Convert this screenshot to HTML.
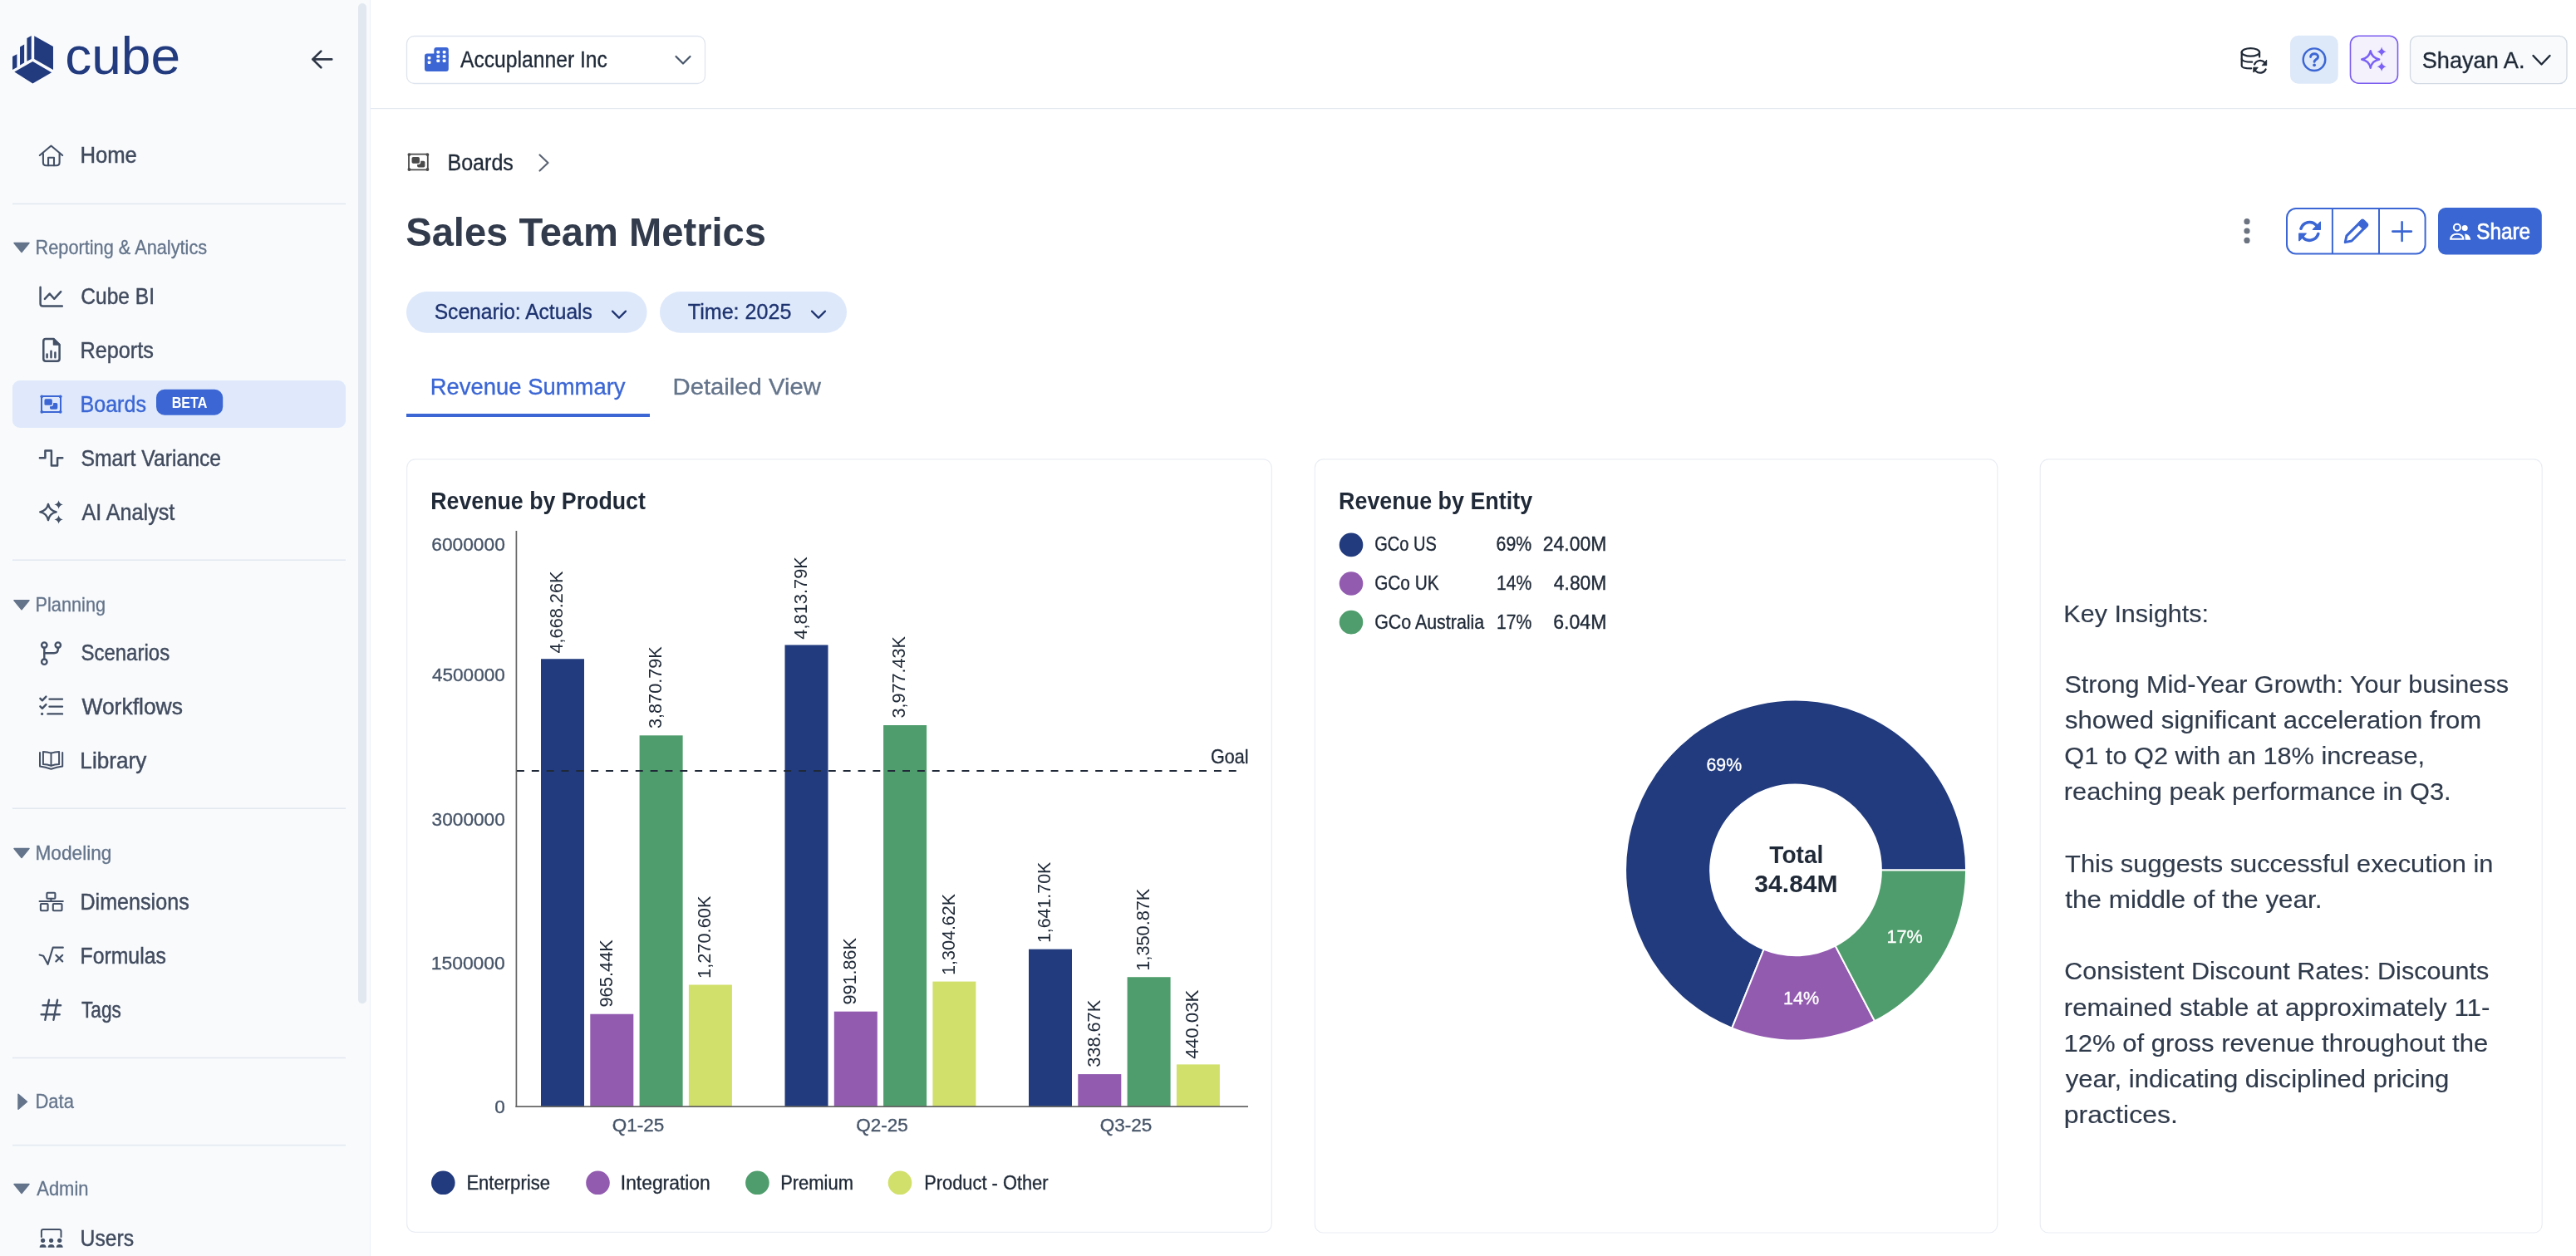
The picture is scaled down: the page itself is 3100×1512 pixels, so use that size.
<!DOCTYPE html>
<html lang="en"><head><meta charset="utf-8"><title>Sales Team Metrics - Boards</title>
<style>html,body{margin:0;padding:0;background:#fff;overflow:hidden}svg{display:block;will-change:transform}</style></head>
<body>
<svg width="3100" height="1512" viewBox="0 0 3100 1512" font-family="Liberation Sans, Arial, sans-serif"><rect x="0.00" y="0.00" width="3100.00" height="1512.00" rx="0" fill="#ffffff"/>
<rect x="0.00" y="0.00" width="445.00" height="1512.00" rx="0" fill="#f8fafc"/>
<rect x="445.00" y="0.00" width="1.10" height="1512.00" rx="0" fill="#edf1fb"/>
<rect x="431.00" y="4.00" width="10.00" height="1204.20" rx="5" fill="#e2e8f0"/>
<g fill="#223a7e"><polygon points="15.05,68.0 20.43,65.2 20.43,81.1 15.05,83.9"/><polygon points="24.02,56.4 29.16,53.6 29.16,75.4 24.02,78.4"/><polygon points="32.42,46.0 37.72,43.0 37.72,70.9 32.42,73.7"/><polygon points="41.22,43.2 63.97,56.0 63.97,83.9 41.22,70.9"/><polygon points="17.34,86.5 39.35,74.1 62.17,87.2 39.35,100.6"/></g>
<text x="78.21" y="88.80" font-size="63.50" font-weight="normal" fill="#223a7e" textLength="138.84" lengthAdjust="spacingAndGlyphs">cube</text>
<path d="M376.3 71.4 H399.2 M386.3 61.6 L376.3 71.4 L386.3 81.2" fill="none" stroke="#2f3747" stroke-width="2.7" stroke-linecap="round" stroke-linejoin="round"/>
<text x="96.39" y="196.00" font-size="27.03" font-weight="normal" fill="#414b5e" textLength="68.55" lengthAdjust="spacingAndGlyphs" stroke="#414b5e" stroke-width="0.45">Home</text>
<rect x="15.00" y="244.65" width="401.00" height="1.50" rx="0" fill="#e2e8f0"/>
<text x="42.52" y="306.00" font-size="23.11" font-weight="normal" fill="#64748b" textLength="206.66" lengthAdjust="spacingAndGlyphs" stroke="#64748b" stroke-width="0.3">Reporting &amp; Analytics</text>
<polygon points="17,292.5 35,292.5 26,303.5" fill="#64748b" stroke="#64748b" stroke-width="1.5" stroke-linejoin="round"/>
<text x="97.25" y="365.90" font-size="27.03" font-weight="normal" fill="#414b5e" textLength="88.82" lengthAdjust="spacingAndGlyphs" stroke="#414b5e" stroke-width="0.45">Cube BI</text>
<text x="96.43" y="430.60" font-size="27.03" font-weight="normal" fill="#414b5e" textLength="88.49" lengthAdjust="spacingAndGlyphs" stroke="#414b5e" stroke-width="0.45">Reports</text>
<rect x="15.00" y="458.00" width="401.00" height="57.00" rx="9" fill="#dfe9fb"/>
<text x="96.44" y="495.50" font-size="27.03" font-weight="normal" fill="#3b66d4" textLength="79.58" lengthAdjust="spacingAndGlyphs" stroke="#3b66d4" stroke-width="0.45">Boards</text>
<rect x="188.00" y="468.70" width="80.20" height="31.00" rx="10" fill="#3b66d4"/>
<text x="206.72" y="490.90" font-size="18.02" font-weight="bold" fill="#ffffff" textLength="42.70" lengthAdjust="spacingAndGlyphs">BETA</text>
<text x="97.39" y="561.00" font-size="27.03" font-weight="normal" fill="#414b5e" textLength="168.71" lengthAdjust="spacingAndGlyphs" stroke="#414b5e" stroke-width="0.45">Smart Variance</text>
<text x="98.45" y="625.50" font-size="27.03" font-weight="normal" fill="#414b5e" textLength="111.92" lengthAdjust="spacingAndGlyphs" stroke="#414b5e" stroke-width="0.45">AI Analyst</text>
<rect x="15.00" y="673.45" width="401.00" height="1.50" rx="0" fill="#e2e8f0"/>
<text x="42.52" y="736.20" font-size="23.11" font-weight="normal" fill="#64748b" textLength="84.58" lengthAdjust="spacingAndGlyphs" stroke="#64748b" stroke-width="0.3">Planning</text>
<polygon points="17,722.7 35,722.7 26,733.7" fill="#64748b" stroke="#64748b" stroke-width="1.5" stroke-linejoin="round"/>
<text x="97.42" y="794.70" font-size="27.03" font-weight="normal" fill="#414b5e" textLength="106.74" lengthAdjust="spacingAndGlyphs" stroke="#414b5e" stroke-width="0.45">Scenarios</text>
<text x="98.39" y="859.90" font-size="27.03" font-weight="normal" fill="#414b5e" textLength="121.57" lengthAdjust="spacingAndGlyphs" stroke="#414b5e" stroke-width="0.45">Workflows</text>
<text x="96.36" y="925.00" font-size="27.03" font-weight="normal" fill="#414b5e" textLength="79.89" lengthAdjust="spacingAndGlyphs" stroke="#414b5e" stroke-width="0.45">Library</text>
<rect x="15.00" y="972.45" width="401.00" height="1.50" rx="0" fill="#e2e8f0"/>
<text x="42.44" y="1035.00" font-size="23.11" font-weight="normal" fill="#64748b" textLength="92.01" lengthAdjust="spacingAndGlyphs" stroke="#64748b" stroke-width="0.3">Modeling</text>
<polygon points="17,1021.5 35,1021.5 26,1032.5" fill="#64748b" stroke="#64748b" stroke-width="1.5" stroke-linejoin="round"/>
<text x="96.44" y="1095.00" font-size="27.03" font-weight="normal" fill="#414b5e" textLength="131.27" lengthAdjust="spacingAndGlyphs" stroke="#414b5e" stroke-width="0.45">Dimensions</text>
<text x="96.47" y="1159.70" font-size="27.03" font-weight="normal" fill="#414b5e" textLength="103.42" lengthAdjust="spacingAndGlyphs" stroke="#414b5e" stroke-width="0.45">Formulas</text>
<text x="98.00" y="1224.50" font-size="27.03" font-weight="normal" fill="#414b5e" textLength="47.82" lengthAdjust="spacingAndGlyphs" stroke="#414b5e" stroke-width="0.45">Tags</text>
<rect x="15.00" y="1272.75" width="401.00" height="1.50" rx="0" fill="#e2e8f0"/>
<text x="42.50" y="1334.30" font-size="23.11" font-weight="normal" fill="#64748b" textLength="46.41" lengthAdjust="spacingAndGlyphs" stroke="#64748b" stroke-width="0.3">Data</text>
<polygon points="22,1317.3 22,1335.3 32.5,1326.3" fill="#64748b" stroke="#64748b" stroke-width="1.5" stroke-linejoin="round"/>
<rect x="15.00" y="1377.85" width="401.00" height="1.50" rx="0" fill="#e2e8f0"/>
<text x="44.26" y="1439.00" font-size="23.11" font-weight="normal" fill="#64748b" textLength="62.28" lengthAdjust="spacingAndGlyphs" stroke="#64748b" stroke-width="0.3">Admin</text>
<polygon points="17,1425.5 35,1425.5 26,1436.5" fill="#64748b" stroke="#64748b" stroke-width="1.5" stroke-linejoin="round"/>
<text x="96.60" y="1499.90" font-size="27.03" font-weight="normal" fill="#414b5e" textLength="64.50" lengthAdjust="spacingAndGlyphs" stroke="#414b5e" stroke-width="0.45">Users</text>
<g fill="none" stroke="#435066" stroke-width="2.1" stroke-linecap="round" stroke-linejoin="round"><path d="M47.8 187 L61.5 175.5 L75.2 187"/><path d="M51.9 185 V195.5 Q51.9 199.2 55.5 199.2 H67.9 Q71.6 199.2 71.6 195.5 V185"/><path d="M58.1 199.2 V189.7 H65 V199.2"/></g>
<g fill="none" stroke="#435066" stroke-width="2.5" stroke-linecap="round" stroke-linejoin="round"><path d="M48.6 345.8 V365.5 Q48.6 368.6 51.7 368.6 H74.8"/><path d="M53.9 359.8 L59.7 353.5 L65.2 359.8 L73.2 351.2"/></g>
<g fill="none" stroke="#435066" stroke-width="2.5" stroke-linecap="round" stroke-linejoin="round"><path d="M64.5 408 H55 Q52.3 408 52.3 410.7 V432 Q52.3 434.7 55 434.7 H68.9 Q71.6 434.7 71.6 432 V415 Z"/><path d="M56.6 426.5 V430.3 M61.5 422.8 V430.3 M66.4 424.5 V430.3"/></g>
<path d="M64.5 408 L71.6 415 H64.5 Z" fill="#435066" stroke="#435066" stroke-width="1.5" stroke-linejoin="round"/>
<g><rect x="50.00" y="477.00" width="23.00" height="19.10" rx="1.6" fill="none" stroke="#3b66d4" stroke-width="2.0"/><circle cx="50.30" cy="477.30" r="1.9" fill="#3b66d4"/><circle cx="50.30" cy="495.80" r="1.9" fill="#3b66d4"/><circle cx="72.70" cy="477.30" r="1.9" fill="#3b66d4"/><circle cx="72.70" cy="495.80" r="1.9" fill="#3b66d4"/><rect x="60.00" y="485.05" width="9.3" height="7.7" rx="1.7" fill="#3b66d4"/><rect x="53.45" y="480.30" width="9.4" height="7.55" rx="1.7" fill="#3b66d4" stroke="#dfe9fb" stroke-width="2.6" paint-order="stroke"/></g>
<g fill="none" stroke="#435066" stroke-width="2.5" stroke-linecap="round" stroke-linejoin="round"><path d="M47.9 551.3 H54.4 V542.6 H61.9 V560.4 H69.1 V551.3 H75.3"/></g>
<path d="M58 606.8 Q59.6 614.7 67.8 616.3 Q59.6 617.9 58 626.2 Q56.4 617.9 48.2 616.3 Q56.4 614.7 58 606.8 Z" fill="none" stroke="#435066" stroke-width="2.3" stroke-linejoin="round"/>
<path d="M70.6 602.3 Q71.3 606.8 75.8 607.5 Q71.3 608.2 70.6 612.7 Q69.9 608.2 65.4 607.5 Q69.9 606.8 70.6 602.3 Z" fill="#435066"/>
<path d="M70.6 620.2 Q71.3 624.7 75.8 625.4 Q71.3 626.1 70.6 630.6 Q69.9 626.1 65.4 625.4 Q69.9 624.7 70.6 620.2 Z" fill="#435066"/>
<g fill="none" stroke="#435066" stroke-width="2.4" stroke-linecap="round" stroke-linejoin="round"><circle cx="53.3" cy="776.6" r="3.2"/><circle cx="69.8" cy="776.6" r="3.2"/><circle cx="53.3" cy="796.7" r="3.2"/><path d="M53.3 779.8 V793.5"/><path d="M69.8 779.8 V781.5 Q69.8 786.2 65 786.2 H53.3"/></g>
<g fill="none" stroke="#435066" stroke-width="2.4" stroke-linecap="round" stroke-linejoin="round"><path d="M48.4 840.8 L50.9 843.3 L55.4 838.6"/><path d="M48.4 850.3 L50.9 852.8 L55.4 848.1"/><path d="M59.5 841.6 H75 M59.5 850.6 H75 M57.5 859.4 H75"/></g>
<circle cx="50.6" cy="859.4" r="1.6" fill="#435066"/>
<g fill="none" stroke="#435066" stroke-width="2.0" stroke-linecap="round" stroke-linejoin="round"><path d="M48 906 V922.5 Q54.5 923.5 61.5 925.8 Q68.5 923.5 75.2 922.5 V906"/><path d="M51.9 905 Q57 905.3 61.5 906.6 Q66 905.3 71.1 905 V920 Q66 920.3 61.5 921.8 Q57 920.3 51.9 920 Z"/><path d="M61.5 906.6 V921.8"/></g>
<g fill="none" stroke="#435066" stroke-width="2.1" stroke-linecap="round" stroke-linejoin="round"><rect x="56.4" y="1074.7" width="10" height="7" rx="1"/><path d="M61.4 1081.7 V1085 M47.6 1085 H75.8"/><rect x="48.9" y="1088" width="8.7" height="8.2" rx="1"/><rect x="63.8" y="1088" width="10.7" height="8.2" rx="1"/></g>
<g fill="none" stroke="#435066" stroke-width="2.2" stroke-linecap="round" stroke-linejoin="round"><path d="M47.6 1149.5 L52.2 1150.8 L57.6 1160.8 L63.7 1140.7 H75.8"/><path d="M67.4 1149.8 L75.2 1157.4 M67.4 1157.4 L75.2 1149.8"/></g>
<g fill="none" stroke="#435066" stroke-width="2.4" stroke-linecap="round" stroke-linejoin="round"><path d="M59 1203.8 L54.3 1227.8 M69.1 1203.8 L64.4 1227.8 M51.6 1210.2 H73.1 M49.6 1221.2 H71.7"/></g>
<g fill="none" stroke="#435066" stroke-width="2.0" stroke-linecap="round" stroke-linejoin="round"><path d="M49.9 1489 V1482.3 Q49.9 1480 52.2 1480 H71.2 Q73.5 1480 73.5 1482.3 V1489"/></g>
<circle cx="51.6" cy="1493.3" r="2.6" fill="#435066"/><path d="M47.6 1501.8 Q47.6 1498 51.6 1498 Q55.6 1498 55.6 1501.8 Z" fill="#435066"/>
<circle cx="61.6" cy="1493.3" r="2.6" fill="#435066"/><path d="M57.6 1501.8 Q57.6 1498 61.6 1498 Q65.6 1498 65.6 1501.8 Z" fill="#435066"/>
<circle cx="71.7" cy="1493.3" r="2.6" fill="#435066"/><path d="M67.7 1501.8 Q67.7 1498 71.7 1498 Q75.7 1498 75.7 1501.8 Z" fill="#435066"/>
<rect x="446.00" y="130.00" width="2654.00" height="1.20" rx="0" fill="#e2e8f0"/>
<rect x="489.50" y="43.50" width="359.00" height="57.00" rx="9" fill="#ffffff" stroke="#dfe5ee" stroke-width="1.3"/>
<text x="553.95" y="81.00" font-size="26.74" font-weight="normal" fill="#1f2937" textLength="176.99" lengthAdjust="spacingAndGlyphs" stroke="#1f2937" stroke-width="0.35">Accuplanner Inc</text>
<g fill="#3b66d4"><rect x="511" y="64.6" width="28.8" height="21.3" rx="3"/><rect x="522.3" y="57" width="17.5" height="14" rx="3"/></g><g fill="#fff"><rect x="514.7" y="67.9" width="3.7" height="3.5" rx="0.8"/><rect x="514.7" y="73.4" width="3.7" height="3.5" rx="0.8"/><rect x="525.4" y="60.9" width="3.8" height="3.5" rx="0.8"/><rect x="532.7" y="60.9" width="3.8" height="3.5" rx="0.8"/><rect x="525.4" y="66.2" width="3.8" height="3.5" rx="0.8"/><rect x="532.7" y="66.2" width="3.8" height="3.5" rx="0.8"/><rect x="525.4" y="71.5" width="3.8" height="3.5" rx="0.8"/><rect x="532.7" y="71.5" width="3.8" height="3.5" rx="0.8"/></g>
<path d="M813.5 68 L822 76.5 L830.5 68" fill="none" stroke="#475569" stroke-width="2.2" stroke-linecap="round" stroke-linejoin="round"/>
<g fill="none" stroke="#1f2937" stroke-width="2.2" stroke-linecap="round"><ellipse cx="2708.4" cy="62.9" rx="10.7" ry="4.8"/><path d="M2697.7 62.9 V79.2 C2697.7 81.3 2702.5 82.3 2709.2 82.3"/><path d="M2719.1 62.9 V68.6"/><path d="M2697.7 71.2 C2698 73.6 2703 74.7 2710.2 74.7"/><path d="M2713.04 77.53 A7.4 7.4 0 0 1 2725.40 75.35"/><path d="M2726.61 83.43 A7.4 7.4 0 0 1 2714.67 85.53"/></g><path d="M2727.7 72.3 V78.7 H2722.1 Z M2711.8 81.2 V86.9 H2712.4 L2717.3 81.2 Z" fill="#1f2937" stroke="#1f2937" stroke-width="0.9" stroke-linejoin="round"/>
<rect x="2756.00" y="42.70" width="57.70" height="58.00" rx="10" fill="#dde8f8"/>
<circle cx="2785" cy="71.7" r="13.3" fill="none" stroke="#3b66d4" stroke-width="2.4"/><path d="M2780.6 68.6 C2780.6 63.6 2789.6 63.4 2789.6 68.4 C2789.6 71.4 2785.1 71.6 2785.1 74.4" fill="none" stroke="#3b66d4" stroke-width="2.9" stroke-linecap="round" stroke-linejoin="round"/><circle cx="2785.1" cy="78.3" r="1.9" fill="#3b66d4"/>
<rect x="2828.50" y="43.20" width="57.00" height="57.00" rx="10" fill="#f4f1fd" stroke="#7a5cf0" stroke-width="1.6"/>
<g fill="none" stroke="#7b61f5" stroke-width="2.4" stroke-linejoin="round"><path d="M2852.7 61.3 Q2854.4 69.8 2863.2 71.5 Q2854.4 73.2 2852.7 81.7 Q2851 73.2 2842.2 71.5 Q2851 69.8 2852.7 61.3 Z"/></g><g fill="#7b61f5"><path d="M2866.1 56.6 Q2867.1 61.3 2871.6 62.3 Q2867.1 63.3 2866.1 68 Q2865.1 63.3 2860.6 62.3 Q2865.1 61.3 2866.1 56.6 Z"/><path d="M2866.1 74.6 Q2867.1 79.3 2871.6 80.3 Q2867.1 81.3 2866.1 86 Q2865.1 81.3 2860.6 80.3 Q2865.1 79.3 2866.1 74.6 Z"/></g>
<rect x="2900.50" y="43.30" width="188.50" height="57.40" rx="9" fill="#f8fafc" stroke="#d2d9e3" stroke-width="1.3"/>
<text x="2914.78" y="82.40" font-size="27.91" font-weight="normal" fill="#1f2937" textLength="123.69" lengthAdjust="spacingAndGlyphs" stroke="#1f2937" stroke-width="0.35">Shayan A.</text>
<path d="M3048.5 67 L3058.5 77.5 L3068.5 67" fill="none" stroke="#1f2937" stroke-width="2.4" stroke-linecap="round" stroke-linejoin="round"/>
<g><rect x="492.00" y="185.70" width="22.80" height="18.70" rx="1.6" fill="none" stroke="#4a4a4a" stroke-width="1.8"/><circle cx="492.40" cy="186.10" r="1.9" fill="#4a4a4a"/><circle cx="492.40" cy="204.00" r="1.9" fill="#4a4a4a"/><circle cx="514.40" cy="186.10" r="1.9" fill="#4a4a4a"/><circle cx="514.40" cy="204.00" r="1.9" fill="#4a4a4a"/><rect x="502.10" y="193.85" width="9.3" height="7.7" rx="1.7" fill="#4a4a4a"/><rect x="495.55" y="189.10" width="9.4" height="7.55" rx="1.7" fill="#4a4a4a" stroke="#ffffff" stroke-width="2.6" paint-order="stroke"/></g>
<text x="538.44" y="205.40" font-size="27.62" font-weight="normal" fill="#1f2937" textLength="79.47" lengthAdjust="spacingAndGlyphs" stroke="#1f2937" stroke-width="0.35">Boards</text>
<path d="M649.5 186.5 L659.5 196 L649.5 205.5" fill="none" stroke="#5b6474" stroke-width="2.2" stroke-linecap="round" stroke-linejoin="round"/>
<text x="488.23" y="295.50" font-size="48.98" font-weight="bold" fill="#323b4c" textLength="433.72" lengthAdjust="spacingAndGlyphs">Sales Team Metrics</text>
<circle cx="2704" cy="266.7" r="3.6" fill="#6b7280"/>
<circle cx="2704" cy="278" r="3.6" fill="#6b7280"/>
<circle cx="2704" cy="289.4" r="3.6" fill="#6b7280"/>
<rect x="2752.00" y="251.00" width="166.60" height="54.50" rx="11" fill="#ffffff" stroke="#3b66d4" stroke-width="2"/>
<rect x="2805.90" y="251.00" width="2.00" height="54.50" rx="0" fill="#3b66d4"/>
<rect x="2862.00" y="251.00" width="2.00" height="54.50" rx="0" fill="#3b66d4"/>
<g fill="none" stroke="#3b66d4" stroke-width="3.6" stroke-linecap="round"><path d="M2768.98 275.21 A10.9 10.9 0 0 1 2787.50 271.11"/><path d="M2789.82 281.59 A10.9 10.9 0 0 1 2771.05 285.41"/></g><path d="M2792.4 267.2 V276.3 H2783.3 Z M2766.7 281 V289.7 H2767.2 L2775.2 281 Z" fill="#3b66d4" stroke="#3b66d4" stroke-width="1.2" stroke-linejoin="round"/>
<g transform="translate(2821.9,292) rotate(-45)"><path d="M0.5 0 L7.2 -4.3 H32 Q34.3 -4.3 34.3 -2 V2 Q34.3 4.3 32 4.3 H7.2 Z" fill="none" stroke="#3b66d4" stroke-width="3.0" stroke-linejoin="round"/><rect x="26.2" y="-5.8" width="9.6" height="11.6" rx="2.8" fill="#3b66d4"/></g>
<path d="M2890.6 267.3 V289.9 M2879.3 278.6 H2901.9" stroke="#3b66d4" stroke-width="2.6" stroke-linecap="round"/>
<rect x="2934.00" y="250.00" width="124.80" height="56.50" rx="9" fill="#3966d2"/>
<circle cx="2966.2" cy="274.4" r="3.5" fill="#ffffff"/><path d="M2966.2 281.5 C2970.3 281.9 2972.9 284.6 2973.2 288.7 H2966.8 Z" fill="#ffffff"/><g fill="none" stroke="#ffffff" stroke-width="2.1"><circle cx="2956.9" cy="273.8" r="4.0" fill="#3966d2"/><path d="M2949.2 287.7 C2949.8 283.2 2953 281.7 2956.8 281.7 C2960.6 281.7 2963.8 283.2 2964.4 287.7 Z"/></g>
<text x="2980.31" y="287.70" font-size="26.74" font-weight="normal" fill="#ffffff" textLength="64.77" lengthAdjust="spacingAndGlyphs" stroke="#ffffff" stroke-width="0.7">Share</text>
<rect x="489.00" y="351.00" width="289.60" height="49.70" rx="24.85" fill="#dde8fa"/>
<text x="522.69" y="384.00" font-size="26.60" font-weight="normal" fill="#1e3370" textLength="190.18" lengthAdjust="spacingAndGlyphs" stroke="#1e3370" stroke-width="0.35">Scenario: Actuals</text>
<path d="M737 374.6 L745 382.6 L753 374.6" fill="none" stroke="#1e3370" stroke-width="2.2" stroke-linecap="round" stroke-linejoin="round"/>
<rect x="794.00" y="351.00" width="225.00" height="49.70" rx="24.85" fill="#dde8fa"/>
<text x="827.75" y="384.00" font-size="26.60" font-weight="normal" fill="#1e3370" textLength="124.62" lengthAdjust="spacingAndGlyphs" stroke="#1e3370" stroke-width="0.35">Time: 2025</text>
<path d="M977 374.6 L985 382.6 L993 374.6" fill="none" stroke="#1e3370" stroke-width="2.2" stroke-linecap="round" stroke-linejoin="round"/>
<text x="517.75" y="475.30" font-size="28.49" font-weight="normal" fill="#3b66d4" textLength="234.81" lengthAdjust="spacingAndGlyphs" stroke="#3b66d4" stroke-width="0.35">Revenue Summary</text>
<text x="809.50" y="475.30" font-size="28.49" font-weight="normal" fill="#64748b" textLength="178.42" lengthAdjust="spacingAndGlyphs" stroke="#64748b" stroke-width="0.35">Detailed View</text>
<rect x="489.00" y="498.00" width="293.00" height="4.00" rx="0" fill="#3b66d4"/>
<rect x="489.70" y="552.90" width="1040.60" height="930.50" rx="10" fill="#ffffff" stroke="#e9edf3" stroke-width="1.2"/>
<rect x="1582.40" y="552.90" width="821.40" height="931.10" rx="10" fill="#ffffff" stroke="#e9edf3" stroke-width="1.2"/>
<rect x="2455.20" y="552.90" width="604.00" height="931.10" rx="10" fill="#ffffff" stroke="#e9edf3" stroke-width="1.2"/>
<text x="518.21" y="613.00" font-size="29.07" font-weight="bold" fill="#1f2937" textLength="258.71" lengthAdjust="spacingAndGlyphs">Revenue by Product</text>
<text x="519.34" y="663.00" font-size="22.60" font-weight="normal" fill="#475569" textLength="88.45" lengthAdjust="spacingAndGlyphs" stroke="#475569" stroke-width="0.35">6000000</text>
<text x="519.98" y="820.00" font-size="22.60" font-weight="normal" fill="#475569" textLength="87.80" lengthAdjust="spacingAndGlyphs" stroke="#475569" stroke-width="0.35">4500000</text>
<text x="519.64" y="994.00" font-size="22.60" font-weight="normal" fill="#475569" textLength="88.15" lengthAdjust="spacingAndGlyphs" stroke="#475569" stroke-width="0.35">3000000</text>
<text x="518.76" y="1166.70" font-size="22.60" font-weight="normal" fill="#475569" textLength="89.03" lengthAdjust="spacingAndGlyphs" stroke="#475569" stroke-width="0.35">1500000</text>
<text x="595.22" y="1339.50" font-size="22.60" font-weight="normal" fill="#475569" textLength="12.57" lengthAdjust="spacingAndGlyphs" stroke="#475569" stroke-width="0.35">0</text>
<rect x="651.00" y="793.25" width="52.00" height="538.95" rx="0" fill="#223b7e"/>
<text transform="translate(677.20,786.05) rotate(-90)" x="-0.50" y="0" font-size="22.9" fill="#1f2937" textLength="99.05" lengthAdjust="spacingAndGlyphs">4,668.26K</text>
<rect x="710.30" y="1220.74" width="52.00" height="111.46" rx="0" fill="#925bb0"/>
<text transform="translate(736.50,1211.54) rotate(-90)" x="-1.03" y="0" font-size="22.9" fill="#1f2937" textLength="81.48" lengthAdjust="spacingAndGlyphs">965.44K</text>
<rect x="769.60" y="885.32" width="52.00" height="446.88" rx="0" fill="#4f9d6c"/>
<text transform="translate(795.80,876.12) rotate(-90)" x="-0.82" y="0" font-size="22.9" fill="#1f2937" textLength="98.57" lengthAdjust="spacingAndGlyphs">3,870.79K</text>
<rect x="828.90" y="1185.51" width="52.00" height="146.69" rx="0" fill="#d1e06a"/>
<text transform="translate(855.10,1176.31) rotate(-90)" x="-1.66" y="0" font-size="22.9" fill="#1f2937" textLength="99.41" lengthAdjust="spacingAndGlyphs">1,270.60K</text>
<rect x="944.50" y="776.45" width="52.00" height="555.75" rx="0" fill="#223b7e"/>
<text transform="translate(970.70,769.25) rotate(-90)" x="-0.50" y="0" font-size="22.9" fill="#1f2937" textLength="99.66" lengthAdjust="spacingAndGlyphs">4,813.79K</text>
<rect x="1003.80" y="1217.69" width="52.00" height="114.51" rx="0" fill="#925bb0"/>
<text transform="translate(1030.00,1208.49) rotate(-90)" x="-1.02" y="0" font-size="22.9" fill="#1f2937" textLength="80.47" lengthAdjust="spacingAndGlyphs">991.86K</text>
<rect x="1063.10" y="873.01" width="52.00" height="459.19" rx="0" fill="#4f9d6c"/>
<text transform="translate(1089.30,863.81) rotate(-90)" x="-0.82" y="0" font-size="22.9" fill="#1f2937" textLength="98.57" lengthAdjust="spacingAndGlyphs">3,977.43K</text>
<rect x="1122.40" y="1181.58" width="52.00" height="150.62" rx="0" fill="#d1e06a"/>
<text transform="translate(1148.60,1172.38) rotate(-90)" x="-1.64" y="0" font-size="22.9" fill="#1f2937" textLength="98.19" lengthAdjust="spacingAndGlyphs">1,304.62K</text>
<rect x="1238.00" y="1142.67" width="52.00" height="189.53" rx="0" fill="#223b7e"/>
<text transform="translate(1264.20,1133.47) rotate(-90)" x="-1.62" y="0" font-size="22.9" fill="#1f2937" textLength="97.37" lengthAdjust="spacingAndGlyphs">1,641.70K</text>
<rect x="1297.30" y="1293.10" width="52.00" height="39.10" rx="0" fill="#925bb0"/>
<text transform="translate(1323.50,1283.90) rotate(-90)" x="-0.82" y="0" font-size="22.9" fill="#1f2937" textLength="80.88" lengthAdjust="spacingAndGlyphs">338.67K</text>
<rect x="1356.60" y="1176.24" width="52.00" height="155.96" rx="0" fill="#4f9d6c"/>
<text transform="translate(1382.80,1167.04) rotate(-90)" x="-1.65" y="0" font-size="22.9" fill="#1f2937" textLength="99.00" lengthAdjust="spacingAndGlyphs">1,350.87K</text>
<rect x="1415.90" y="1281.40" width="52.00" height="50.80" rx="0" fill="#d1e06a"/>
<text transform="translate(1442.10,1274.20) rotate(-90)" x="-0.51" y="0" font-size="22.9" fill="#1f2937" textLength="83.17" lengthAdjust="spacingAndGlyphs">440.03K</text>
<line x1="621.4" y1="639" x2="621.4" y2="1333" stroke="#666" stroke-width="1.7"/>
<line x1="620.5" y1="1332.1" x2="1502" y2="1332.1" stroke="#666" stroke-width="1.75"/>
<line x1="622" y1="928.1" x2="1496" y2="928.1" stroke="#1f2937" stroke-width="2.0" stroke-dasharray="8.9,8.95"/>
<text x="1456.92" y="919.00" font-size="23.84" font-weight="normal" fill="#1f2937" textLength="45.53" lengthAdjust="spacingAndGlyphs" stroke="#1f2937" stroke-width="0.35">Goal</text>
<text x="736.69" y="1362.30" font-size="22.60" font-weight="normal" fill="#475569" textLength="62.51" lengthAdjust="spacingAndGlyphs" stroke="#475569" stroke-width="0.35">Q1-25</text>
<text x="1030.19" y="1362.30" font-size="22.60" font-weight="normal" fill="#475569" textLength="62.51" lengthAdjust="spacingAndGlyphs" stroke="#475569" stroke-width="0.35">Q2-25</text>
<text x="1323.69" y="1362.30" font-size="22.60" font-weight="normal" fill="#475569" textLength="62.51" lengthAdjust="spacingAndGlyphs" stroke="#475569" stroke-width="0.35">Q3-25</text>
<circle cx="533.3" cy="1423.8" r="14.3" fill="#223b7e"/>
<text x="561.39" y="1432.20" font-size="23.55" font-weight="normal" fill="#1f2937" textLength="100.57" lengthAdjust="spacingAndGlyphs" stroke="#1f2937" stroke-width="0.35">Enterprise</text>
<circle cx="719.5" cy="1423.8" r="14.3" fill="#925bb0"/>
<text x="746.80" y="1432.20" font-size="23.55" font-weight="normal" fill="#1f2937" textLength="107.90" lengthAdjust="spacingAndGlyphs" stroke="#1f2937" stroke-width="0.35">Integration</text>
<circle cx="911.4" cy="1423.8" r="14.3" fill="#4f9d6c"/>
<text x="939.20" y="1432.20" font-size="23.55" font-weight="normal" fill="#1f2937" textLength="87.74" lengthAdjust="spacingAndGlyphs" stroke="#1f2937" stroke-width="0.35">Premium</text>
<circle cx="1083" cy="1423.8" r="14.3" fill="#d1e06a"/>
<text x="1112.21" y="1432.20" font-size="23.55" font-weight="normal" fill="#1f2937" textLength="149.34" lengthAdjust="spacingAndGlyphs" stroke="#1f2937" stroke-width="0.35">Product - Other</text>
<text x="1611.00" y="613.00" font-size="29.07" font-weight="bold" fill="#1f2937" textLength="233.14" lengthAdjust="spacingAndGlyphs">Revenue by Entity</text>
<circle cx="1626" cy="655.9" r="14.3" fill="#223b7e"/>
<text x="1654.20" y="663.10" font-size="23.11" font-weight="normal" fill="#1f2937" textLength="74.73" lengthAdjust="spacingAndGlyphs" stroke="#1f2937" stroke-width="0.35">GCo US</text>
<text x="1800.61" y="663.10" font-size="23.00" font-weight="normal" fill="#1f2937" textLength="42.64" lengthAdjust="spacingAndGlyphs" stroke="#1f2937" stroke-width="0.35">69%</text>
<text x="1856.85" y="663.10" font-size="23.00" font-weight="normal" fill="#1f2937" textLength="76.54" lengthAdjust="spacingAndGlyphs" stroke="#1f2937" stroke-width="0.35">24.00M</text>
<circle cx="1626" cy="702.5" r="14.3" fill="#925bb0"/>
<text x="1654.16" y="709.90" font-size="23.11" font-weight="normal" fill="#1f2937" textLength="77.49" lengthAdjust="spacingAndGlyphs" stroke="#1f2937" stroke-width="0.35">GCo UK</text>
<text x="1800.89" y="709.90" font-size="23.00" font-weight="normal" fill="#1f2937" textLength="42.36" lengthAdjust="spacingAndGlyphs" stroke="#1f2937" stroke-width="0.35">14%</text>
<text x="1869.87" y="709.90" font-size="23.00" font-weight="normal" fill="#1f2937" textLength="63.51" lengthAdjust="spacingAndGlyphs" stroke="#1f2937" stroke-width="0.35">4.80M</text>
<circle cx="1626" cy="749.1" r="14.3" fill="#4f9d6c"/>
<text x="1654.13" y="756.70" font-size="23.11" font-weight="normal" fill="#1f2937" textLength="132.08" lengthAdjust="spacingAndGlyphs" stroke="#1f2937" stroke-width="0.35">GCo Australia</text>
<text x="1800.89" y="756.70" font-size="23.00" font-weight="normal" fill="#1f2937" textLength="42.36" lengthAdjust="spacingAndGlyphs" stroke="#1f2937" stroke-width="0.35">17%</text>
<text x="1869.22" y="756.70" font-size="23.00" font-weight="normal" fill="#1f2937" textLength="64.18" lengthAdjust="spacingAndGlyphs" stroke="#1f2937" stroke-width="0.35">6.04M</text>
<path d="M2366.10 1047.50 A205.0 205.0 0 1 0 2084.28 1237.56 L2122.58 1142.81 A102.8 102.8 0 1 1 2263.90 1047.50 Z" fill="#223b7e" stroke="#ffffff" stroke-width="2"/>
<path d="M2084.28 1237.56 A205.0 205.0 0 0 0 2256.04 1229.19 L2208.71 1138.61 A102.8 102.8 0 0 1 2122.58 1142.81 Z" fill="#925bb0" stroke="#ffffff" stroke-width="2"/>
<path d="M2256.04 1229.19 A205.0 205.0 0 0 0 2366.10 1047.50 L2263.90 1047.50 A102.8 102.8 0 0 1 2208.71 1138.61 Z" fill="#4f9d6c" stroke="#ffffff" stroke-width="2"/>
<text x="2053.51" y="928.10" font-size="22.50" font-weight="normal" fill="#ffffff" textLength="42.64" lengthAdjust="spacingAndGlyphs" stroke="#ffffff" stroke-width="0.35">69%</text>
<text x="2145.96" y="1208.70" font-size="22.50" font-weight="normal" fill="#ffffff" textLength="43.21" lengthAdjust="spacingAndGlyphs" stroke="#ffffff" stroke-width="0.35">14%</text>
<text x="2270.56" y="1135.20" font-size="22.50" font-weight="normal" fill="#ffffff" textLength="43.21" lengthAdjust="spacingAndGlyphs" stroke="#ffffff" stroke-width="0.35">17%</text>
<text x="2129.34" y="1038.60" font-size="28.63" font-weight="bold" fill="#1f2937" textLength="64.99" lengthAdjust="spacingAndGlyphs">Total</text>
<text x="2111.36" y="1074.40" font-size="28.63" font-weight="bold" fill="#1f2937" textLength="100.22" lengthAdjust="spacingAndGlyphs">34.84M</text>
<text x="2483.30" y="748.50" font-size="30.38" font-weight="normal" fill="#2f3a4b" textLength="174.78" lengthAdjust="spacingAndGlyphs" stroke="#2f3a4b" stroke-width="0.15">Key Insights:</text>
<text x="2484.42" y="834.00" font-size="30.38" font-weight="normal" fill="#2f3a4b" textLength="534.57" lengthAdjust="spacingAndGlyphs" stroke="#2f3a4b" stroke-width="0.15">Strong Mid-Year Growth: Your business</text>
<text x="2484.93" y="877.00" font-size="30.38" font-weight="normal" fill="#2f3a4b" textLength="501.33" lengthAdjust="spacingAndGlyphs" stroke="#2f3a4b" stroke-width="0.15">showed significant acceleration from</text>
<text x="2484.36" y="920.00" font-size="30.38" font-weight="normal" fill="#2f3a4b" textLength="433.70" lengthAdjust="spacingAndGlyphs" stroke="#2f3a4b" stroke-width="0.15">Q1 to Q2 with an 18% increase,</text>
<text x="2483.77" y="963.00" font-size="30.38" font-weight="normal" fill="#2f3a4b" textLength="465.83" lengthAdjust="spacingAndGlyphs" stroke="#2f3a4b" stroke-width="0.15">reaching peak performance in Q3.</text>
<text x="2485.12" y="1049.60" font-size="30.38" font-weight="normal" fill="#2f3a4b" textLength="515.30" lengthAdjust="spacingAndGlyphs" stroke="#2f3a4b" stroke-width="0.15">This suggests successful execution in</text>
<text x="2485.33" y="1093.00" font-size="30.38" font-weight="normal" fill="#2f3a4b" textLength="309.21" lengthAdjust="spacingAndGlyphs" stroke="#2f3a4b" stroke-width="0.15">the middle of the year.</text>
<text x="2484.24" y="1178.80" font-size="30.38" font-weight="normal" fill="#2f3a4b" textLength="510.94" lengthAdjust="spacingAndGlyphs" stroke="#2f3a4b" stroke-width="0.15">Consistent Discount Rates: Discounts</text>
<text x="2483.73" y="1222.80" font-size="30.38" font-weight="normal" fill="#2f3a4b" textLength="512.64" lengthAdjust="spacingAndGlyphs" stroke="#2f3a4b" stroke-width="0.15">remained stable at approximately 11-</text>
<text x="2483.44" y="1265.60" font-size="30.38" font-weight="normal" fill="#2f3a4b" textLength="510.84" lengthAdjust="spacingAndGlyphs" stroke="#2f3a4b" stroke-width="0.15">12% of gross revenue throughout the</text>
<text x="2485.71" y="1308.90" font-size="30.38" font-weight="normal" fill="#2f3a4b" textLength="461.68" lengthAdjust="spacingAndGlyphs" stroke="#2f3a4b" stroke-width="0.15">year, indicating disciplined pricing</text>
<text x="2483.75" y="1351.90" font-size="30.38" font-weight="normal" fill="#2f3a4b" textLength="137.18" lengthAdjust="spacingAndGlyphs" stroke="#2f3a4b" stroke-width="0.15">practices.</text></svg>
</body></html>
